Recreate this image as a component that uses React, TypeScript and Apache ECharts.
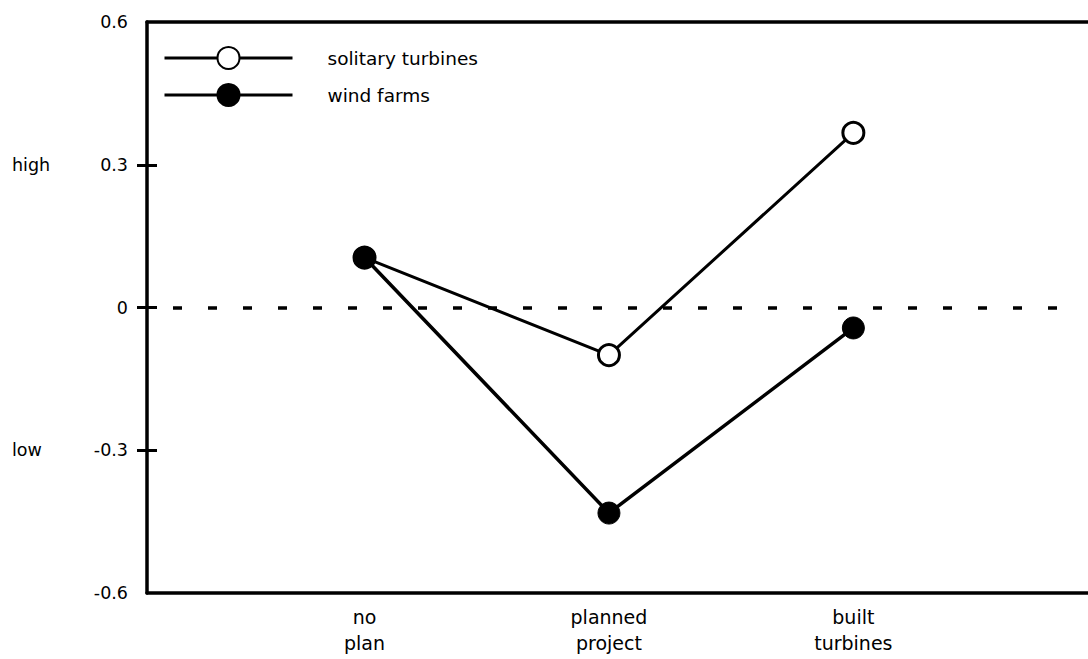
import React, { useEffect, useRef } from "react";
import * as echarts from "echarts";

const categories = ["no\nplan", "planned\nproject", "built\nturbines"];
const solitaryTurbines = [0.105, -0.1, 0.367];
const windFarms = [0.105, -0.432, -0.043];
const yTickValues = [-0.3, 0, 0.3];
const levelValues = [0.3, -0.3];
const levelNames = ["high", "low"];
const seriesNames = ["solitary turbines", "wind farms"];
const zeroLineRange = [0.11, 3.85];

const FONT = "DejaVu Sans";

export default function App() {
  const ref = useRef<HTMLDivElement>(null);

  useEffect(() => {
    document.body.style.margin = "0";
    if (!ref.current) return;
    const chart = echarts.init(ref.current, null, { renderer: "svg" });
    const xPos = categories.map((_, i) => i + 1);
    const option: any = {
      animation: false,
      backgroundColor: "#fff",
      grid: { left: 147, right: 0, top: 22, bottom: 66, containLabel: false, outerBoundsMode: "none" },
      legend: {
        orient: "vertical",
        left: 158,
        top: 41,
        padding: 5,
        itemWidth: 128,
        itemHeight: 27.5,
        itemGap: 13,
        data: seriesNames,
        lineStyle: { width: 3, color: "#000" },
        textStyle: { fontFamily: FONT, fontSize: 18.5, color: "#000", padding: [0, 0, 0, 30] },
      },
      xAxis: [
        {
          type: "value",
          min: 0.11,
          max: 3.96,
          position: "bottom",
          axisLine: { onZero: false, lineStyle: { color: "#000", width: 3.5 } },
          axisTick: { show: false },
          splitLine: { show: false },
          axisLabel: {
            customValues: xPos,
            formatter: (v: number) => categories[Math.round(v) - 1] ?? "",
            margin: 11,
            lineHeight: 26,
            fontSize: 19,
            fontFamily: FONT,
            color: "#000",
          },
        },
        {
          type: "value",
          min: 0.11,
          max: 3.96,
          position: "top",
          axisLine: { onZero: false, lineStyle: { color: "#000", width: 3.5 } },
          axisTick: { show: false },
          axisLabel: { show: false },
          splitLine: { show: false },
        },
      ],
      yAxis: [
        {
          type: "value",
          min: -0.6,
          max: 0.6,
          interval: 0.3,
          position: "left",
          axisLine: { show: true, onZero: false, lineStyle: { color: "#000", width: 3.5 } },
          axisTick: { show: true, customValues: yTickValues, length: 10, lineStyle: { color: "#000", width: 3 } },
          splitLine: { show: false },
          axisLabel: {
            margin: 19,
            fontSize: 17.5,
            fontFamily: FONT,
            color: "#000",
            formatter: (v: number) => String(Number(v.toFixed(1))),
          },
        },
        {
          type: "value",
          min: -0.6,
          max: 0.6,
          position: "left",
          axisLine: { show: false, onZero: false },
          axisTick: { show: true, inside: true, customValues: yTickValues, length: 10, lineStyle: { color: "#000", width: 3 } },
          splitLine: { show: false },
          axisLabel: {
            customValues: levelValues,
            formatter: (v: number) => levelNames[levelValues.findIndex((l) => Math.abs(l - v) < 1e-6)] ?? "",
            margin: 135,
            align: "left",
            fontSize: 17.5,
            fontFamily: FONT,
            color: "#000",
          },
        },
      ],
      series: [
        {
          name: seriesNames[0],
          type: "line",
          xAxisIndex: 0,
          yAxisIndex: 0,
          data: xPos.map((x, i) => [x, solitaryTurbines[i]]),
          symbol: "circle",
          symbolSize: 21,
          itemStyle: { color: "#fff", borderColor: "#000", borderWidth: 3 },
          lineStyle: { color: "#000", width: 3 },
          markLine: {
            silent: true,
            symbol: ["none", "none"],
            label: { show: false },
            lineStyle: { color: "#000", width: 3.5, type: [9, 26], dashOffset: 9 },
            data: [[{ coord: [zeroLineRange[0], 0] }, { coord: [zeroLineRange[1], 0] }]],
          },
        },
        {
          name: seriesNames[1],
          type: "line",
          xAxisIndex: 0,
          yAxisIndex: 0,
          data: xPos.map((x, i) => [x, windFarms[i]]),
          symbol: "circle",
          symbolSize: 22,
          itemStyle: { color: "#000", borderColor: "#000", borderWidth: 1 },
          lineStyle: { color: "#000", width: 3.5 },
        },
      ],
    };
    chart.setOption(option);
    return () => chart.dispose();
  }, []);

  return <div ref={ref} style={{ width: 1088, height: 659 }} />;
}
